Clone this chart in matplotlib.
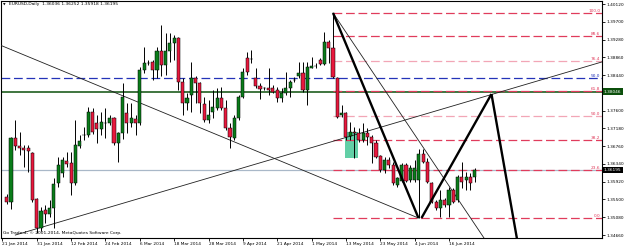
import matplotlib.pyplot as plt
from matplotlib.patches import Rectangle
import matplotlib.transforms as mtransforms

# -------------------------
# Daily EURUSD candles, bar 1 = 22 Jan 2014
# -------------------------

opens = [1.35559, 1.35441, 1.36953, 1.36764, 1.36717, 1.36717, 1.36599, 1.35511, 1.34826, 1.35251,
         1.35157, 1.35299, 1.35890, 1.36126, 1.36410, 1.36362, 1.35890, 1.36764, 1.37024, 1.37024,
         1.37568, 1.37308, 1.37166, 1.37308, 1.37308, 1.37426, 1.36835, 1.37071, 1.37544, 1.37308,
         1.37402, 1.37308, 1.38561, 1.38726, 1.38750, 1.38561, 1.39010, 1.38679, 1.39010, 1.39199,
         1.39317, 1.38277, 1.37781, 1.37970, 1.38371, 1.38253, 1.37757, 1.37379, 1.37568, 1.37662,
         1.37899, 1.37662, 1.37190, 1.36953, 1.37426, 1.37922, 1.38844, 1.38821, 1.38371, 1.38182,
         1.38135, 1.38135, 1.38135, 1.38088, 1.37899, 1.38017, 1.38135, 1.38324, 1.38419, 1.38490,
         1.38088, 1.38608, 1.38655, 1.38797, 1.38702, 1.39222, 1.39081, 1.38371, 1.37497, 1.37544,
         1.37001, 1.37095, 1.37071, 1.36906, 1.37071, 1.36977, 1.36835, 1.36528, 1.36197, 1.36433,
         1.36315, 1.35842, 1.35937, 1.36315, 1.35961, 1.35961, 1.35961, 1.36575, 1.36386, 1.35890,
         1.35441, 1.35299, 1.35488, 1.35370, 1.35724, 1.35488, 1.36031, 1.35961, 1.36031, 1.36036]
highs = [1.35630, 1.36977, 1.37379, 1.37095, 1.36788, 1.36788, 1.36622, 1.35535, 1.35322, 1.35370,
         1.35488, 1.36008, 1.36504, 1.36504, 1.36622, 1.36622, 1.37379, 1.37024, 1.37213, 1.37686,
         1.37662, 1.37497, 1.37568, 1.37662, 1.37497, 1.37450, 1.37095, 1.38253, 1.37781, 1.37781,
         1.37497, 1.38631, 1.39104, 1.38797, 1.38797, 1.39104, 1.39624, 1.39435, 1.39435, 1.39388,
         1.39341, 1.38371, 1.38017, 1.38750, 1.38419, 1.38277, 1.37922, 1.37851, 1.38088, 1.38135,
         1.38159, 1.37851, 1.37308, 1.37497, 1.37970, 1.38608, 1.38986, 1.39033, 1.38608, 1.38253,
         1.38159, 1.38608, 1.38206, 1.38159, 1.38135, 1.38513, 1.38324, 1.38395, 1.38750, 1.38750,
         1.38750, 1.38868, 1.38726, 1.38844, 1.39459, 1.39270, 1.39908, 1.38395, 1.37733, 1.37568,
         1.37331, 1.37213, 1.37190, 1.37308, 1.37190, 1.37024, 1.36906, 1.36551, 1.36504, 1.36504,
         1.36386, 1.36031, 1.36362, 1.36362, 1.36315, 1.36433, 1.36693, 1.36693, 1.36481, 1.35913,
         1.35488, 1.35724, 1.35535, 1.35795, 1.35771, 1.36079, 1.36386, 1.36150, 1.36126, 1.36252]
lows = [1.35393, 1.35275, 1.36670, 1.36551, 1.36268, 1.36150, 1.35441, 1.34708, 1.34755, 1.34944,
        1.35086, 1.34826, 1.35795, 1.36031, 1.36268, 1.35606, 1.35842, 1.36717, 1.36906, 1.36977,
        1.37048, 1.36835, 1.37024, 1.36953, 1.37261, 1.36788, 1.36386, 1.36930, 1.37071, 1.37213,
        1.37024, 1.37261, 1.38490, 1.38679, 1.38324, 1.38371, 1.38419, 1.38442, 1.38750, 1.38797,
        1.38088, 1.37497, 1.37615, 1.37568, 1.37781, 1.37544, 1.37331, 1.37308, 1.37426, 1.37615,
        1.37615, 1.37142, 1.36717, 1.36906, 1.37379, 1.37899, 1.38442, 1.38726, 1.38135, 1.37875,
        1.38088, 1.37970, 1.38017, 1.37804, 1.37804, 1.37970, 1.37922, 1.38277, 1.38371, 1.38041,
        1.37733, 1.38608, 1.38608, 1.38679, 1.38679, 1.38726, 1.38371, 1.37426, 1.37450, 1.36906,
        1.36906, 1.36481, 1.36859, 1.36859, 1.36788, 1.36362, 1.36481, 1.36150, 1.36126, 1.36244,
        1.35842, 1.35795, 1.35913, 1.35913, 1.35913, 1.35913, 1.35062, 1.36362, 1.35890, 1.35417,
        1.35251, 1.35086, 1.35322, 1.35086, 1.35417, 1.35441, 1.35771, 1.35724, 1.35724, 1.35918]
closes = [1.35441, 1.36953, 1.36764, 1.36717, 1.36670, 1.36646, 1.35488, 1.34826, 1.35228, 1.35157,
          1.35299, 1.35866, 1.36315, 1.36433, 1.36339, 1.35890, 1.36788, 1.36882, 1.37036, 1.37568,
          1.37095, 1.37166, 1.37331, 1.37308, 1.37426, 1.36835, 1.37071, 1.37922, 1.37308, 1.37426,
          1.37308, 1.38561, 1.38726, 1.38726, 1.38561, 1.39010, 1.38679, 1.39010, 1.39199, 1.39317,
          1.38277, 1.37781, 1.37899, 1.38371, 1.38253, 1.37781, 1.37379, 1.37497, 1.37686, 1.37899,
          1.37662, 1.37190, 1.36977, 1.37426, 1.37922, 1.38513, 1.38513, 1.38821, 1.38182, 1.38111,
          1.38135, 1.38088, 1.38041, 1.37899, 1.38017, 1.38135, 1.38277, 1.38324, 1.38490, 1.38088,
          1.38631, 1.38655, 1.38655, 1.38702, 1.39222, 1.39081, 1.38395, 1.37450, 1.37544, 1.36977,
          1.37095, 1.37071, 1.36906, 1.37071, 1.36977, 1.36835, 1.36504, 1.36197, 1.36433, 1.36315,
          1.35890, 1.36008, 1.36315, 1.35937, 1.36244, 1.36244, 1.36575, 1.36386, 1.35913, 1.35441,
          1.35299, 1.35488, 1.35370, 1.35724, 1.35441, 1.36031, 1.35913, 1.36031, 1.35890, 1.36195]
first_bar = 1

date_labels = ["21 Jan 2014", "31 Jan 2014", "12 Feb 2014", "24 Feb 2014", "6 Mar 2014",
               "18 Mar 2014", "28 Mar 2014", "9 Apr 2014", "21 Apr 2014", "1 May 2014",
               "13 May 2014", "23 May 2014", "4 Jun 2014", "16 Jun 2014"]
date_bars = [0, 8, 16, 24, 32, 40, 48, 56, 64, 72, 80, 88, 96, 104]

# 1.38020 sits under the green price box, so it is not listed
price_ticks = [1.40120, 1.39700, 1.39280, 1.38860, 1.38440, 1.37600,
               1.37180, 1.36760, 1.36340, 1.35920, 1.35500, 1.35080, 1.34660]

# fibonacci retracement from the 5 Jun low to the 8 May high
fib_levels = [0.0, 23.6, 38.2, 50.0, 61.8, 76.4, 88.6, 100.0]
fib_low, fib_high = 1.35062, 1.39908
fib_start = 77

green_level = 1.38046
blue_level = 1.38364
bid = 1.36195

# drawn objects: (bar, price)
pattern_legs = [[(77, 1.39908), (96.9, 1.35062)],
                [(97.6, 1.35062), (113.9, 1.37993)],
                [(113.9, 1.37993), (120.5, 1.34190)]]
thin_lines = [[(-2.0, 1.39211), (96.9, 1.35062)],
              [(3.0, 1.34660), (140.0, 1.38762)],
              [(77, 1.39908), (114.0, 1.34311)]]
zone = (79.9, 82.9, 1.36487, 1.37102)

header = "EURUSD,Daily  1.36036 1.36252 1.35918 1.36195"
footer = "Go Trade-4, \u00a9 2001-2014, MetaQuotes Software Corp."

# -------------------------
# Figure
# -------------------------

W, H = 625, 247
fig = plt.figure(figsize=(W / 100, H / 100), dpi=100)
fig.patch.set_facecolor("white")
ax = fig.add_axes([1 / W, 1 - 238 / H, 601 / W, 237 / H])
ax.set_xlim(-0.326, 139.64)
ax.set_ylim(1.34590, 1.40191)
for s in ax.spines.values():
    s.set_linewidth(0.8)
    s.set_color("black")

fs = 3.1
bull = "#0a7d1a"
bear = "#e8183d"

# zone rectangle
ax.add_patch(Rectangle((zone[0], zone[2]), zone[1] - zone[0], zone[3] - zone[2],
                       facecolor="#62cfa6", edgecolor="none", zorder=1))

# horizontal lines
ax.axhline(green_level, color="#0b4f0b", lw=1.1, zorder=2)
ax.axhline(blue_level, color="#2433b8", lw=0.9, dashes=(7, 3), zorder=2)
ax.axhline(bid, color="#a9b8c8", lw=0.9, zorder=2)

# fibonacci levels
blend = mtransforms.blended_transform_factory(ax.transAxes, ax.transData)
for lev in fib_levels:
    p = fib_low + lev / 100 * (fib_high - fib_low)
    col = "#f2a6b6" if lev in (50.0, 76.4) else "#e03c5c"
    ax.plot([fib_start, 200], [p, p], color=col, lw=0.9, dashes=(7, 3), zorder=2)
    ax.text(0.997, p, f"{lev:.1f}", transform=blend, ha="right", va="bottom",
            fontsize=fs, color="#e03c5c", zorder=6)
ax.text(0.997, blue_level, "50.0", transform=blend, ha="right", va="bottom",
        fontsize=fs, color="#2433b8", zorder=6)

# candles
for i in range(len(opens)):
    x = first_bar + i
    o, h, l, c = opens[i], highs[i], lows[i], closes[i]
    col = bull if c >= o else bear
    ax.vlines(x, l, h, color="black", lw=0.7, zorder=4)
    bot = min(o, c)
    hgt = max(abs(c - o), 0.00004)
    ax.bar(x, hgt, 0.72, bottom=bot, color=col, edgecolor="black", lw=0.35, zorder=5)

# trend lines
for seg in thin_lines:
    xs, ys = zip(*seg)
    ax.plot(xs, ys, color="#202020", lw=0.6, zorder=3)
for seg in pattern_legs:
    xs, ys = zip(*seg)
    ax.plot(xs, ys, color="black", lw=1.7, zorder=6, solid_capstyle="butt")

# axes ticks
ax.yaxis.tick_right()
ax.set_yticks(price_ticks)
ax.set_yticklabels([f"{p:.5f}" for p in price_ticks])
ax.tick_params(axis="y", direction="out", length=2, width=0.6, pad=1, labelsize=fs)
ax.set_xticks(date_bars)
ax.set_xticklabels(date_labels)
ax.tick_params(axis="x", direction="out", length=2, width=0.6, pad=1, labelsize=fs)
for t in ax.get_xticklabels():
    t.set_ha("left")

# price boxes on the scale
def price_box(price, text, bg):
    ax.text(1.003, price, text, transform=blend, ha="left", va="center",
            fontsize=fs, color="white", zorder=10, clip_on=False,
            bbox=dict(boxstyle="square,pad=0.3", facecolor=bg, edgecolor="none"))

price_box(green_level, f"{green_level:.5f}", "#0b4f0b")
price_box(bid, f"{bid:.5f}", "black")

fig.text(3 / W, 1 - 4.5 / H, "\u25bc", fontsize=2.4, ha="left", va="center")
fig.text(9 / W, 1 - 4.5 / H, header, fontsize=3.2, ha="left", va="center")
fig.text(3 / W, 1 - 233 / H, footer, fontsize=3.2, ha="left", va="center")

fig.savefig("out.png", dpi=100)
